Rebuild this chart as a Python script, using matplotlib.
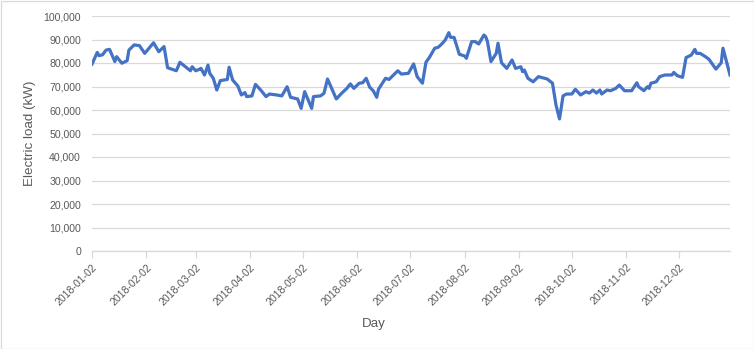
import matplotlib
matplotlib.use("Agg")
import matplotlib.pyplot as plt
import matplotlib.dates as mdates
from matplotlib.patches import Rectangle
from matplotlib.ticker import FuncFormatter
import numpy as np

# Daily electric load readings for 2018
dates = [
    "2018-01-02", "2018-01-05", "2018-01-06", "2018-01-08", "2018-01-10", "2018-01-12",
    "2018-01-15", "2018-01-16", "2018-01-19", "2018-01-22", "2018-01-23", "2018-01-26",
    "2018-01-29", "2018-02-01", "2018-02-06", "2018-02-09", "2018-02-12", "2018-02-14",
    "2018-02-19", "2018-02-21", "2018-02-27", "2018-02-28", "2018-03-02", "2018-03-04",
    "2018-03-05", "2018-03-07", "2018-03-09", "2018-03-10", "2018-03-12", "2018-03-14",
    "2018-03-16", "2018-03-20", "2018-03-21", "2018-03-23", "2018-03-26", "2018-03-28",
    "2018-03-30", "2018-03-31", "2018-04-03", "2018-04-05", "2018-04-08", "2018-04-11",
    "2018-04-13", "2018-04-17", "2018-04-20", "2018-04-23", "2018-04-25", "2018-04-29",
    "2018-05-01", "2018-05-03", "2018-05-07", "2018-05-08", "2018-05-12", "2018-05-14",
    "2018-05-16", "2018-05-21", "2018-05-24", "2018-05-27", "2018-05-29", "2018-05-31",
    "2018-06-03", "2018-06-05", "2018-06-07", "2018-06-09", "2018-06-11", "2018-06-13",
    "2018-06-14", "2018-06-18", "2018-06-20", "2018-06-22", "2018-06-25", "2018-06-27",
    "2018-07-01", "2018-07-04", "2018-07-06", "2018-07-09", "2018-07-11", "2018-07-13",
    "2018-07-16", "2018-07-18", "2018-07-20", "2018-07-22", "2018-07-24", "2018-07-25",
    "2018-07-27", "2018-07-30", "2018-08-02", "2018-08-03", "2018-08-06", "2018-08-08",
    "2018-08-10", "2018-08-13", "2018-08-14", "2018-08-15", "2018-08-17", "2018-08-20",
    "2018-08-21", "2018-08-23", "2018-08-26", "2018-08-29", "2018-08-31", "2018-09-03",
    "2018-09-04", "2018-09-05", "2018-09-07", "2018-09-10", "2018-09-13", "2018-09-18",
    "2018-09-21", "2018-09-23", "2018-09-25", "2018-09-27", "2018-09-29", "2018-10-02",
    "2018-10-04", "2018-10-07", "2018-10-10", "2018-10-12", "2018-10-14", "2018-10-16",
    "2018-10-18", "2018-10-19", "2018-10-22", "2018-10-24", "2018-10-27", "2018-10-29",
    "2018-11-01", "2018-11-05", "2018-11-08", "2018-11-09", "2018-11-12", "2018-11-14",
    "2018-11-15", "2018-11-16", "2018-11-19", "2018-11-21", "2018-11-24", "2018-11-28",
    "2018-11-29", "2018-12-01", "2018-12-04", "2018-12-06", "2018-12-09", "2018-12-11",
    "2018-12-12", "2018-12-14", "2018-12-17", "2018-12-19", "2018-12-23", "2018-12-26",
    "2018-12-27", "2018-12-31",
]
load_kw = [
    79500, 84500, 83100, 83500, 85500, 85800,
    80600, 82700, 79900, 81000, 85500, 87700,
    87400, 84100, 88600, 84800, 87000, 78000,
    76700, 80300, 76700, 78400, 76700, 77300,
    77700, 74900, 79100, 75600, 73500, 68500,
    72500, 73000, 78200, 72800, 70200, 66400,
    67400, 65700, 66000, 70900, 68500, 65700,
    66800, 66400, 66000, 69900, 65400, 64700,
    60700, 67800, 60700, 65700, 66000, 67100,
    73200, 64700, 67100, 69200, 71100, 69200,
    71400, 71600, 73500, 69700, 68200, 65400,
    68800, 73500, 73000, 74500, 76700, 75300,
    75600, 79600, 74200, 71400, 80300, 82400,
    86300, 86700, 88100, 89800, 92900, 90900,
    90900, 83700, 83000, 82000, 89100, 89100,
    88100, 91900, 91200, 89100, 80600, 84100,
    88400, 80100, 77700, 81300, 77700, 78400,
    76300, 77000, 73500, 72000, 74200, 73200,
    71400, 62100, 56200, 66000, 66800, 66800,
    68800, 66400, 67800, 67200, 68500, 67200,
    68500, 66800, 68500, 68200, 69200, 70600,
    68200, 68200, 71600, 69900, 68200, 69900,
    69200, 71400, 72000, 74200, 74900, 74900,
    76000, 74600, 73900, 82300, 83400, 85800,
    84100, 84100, 82700, 81600, 77400, 80100,
    86300, 74900,
]
tick_dates = [
    "2018-01-02", "2018-02-02", "2018-03-02", "2018-04-02", "2018-05-02", "2018-06-02",
    "2018-07-02", "2018-08-02", "2018-09-02", "2018-10-02", "2018-11-02", "2018-12-02",
]

x = np.array(dates, dtype="datetime64[D]").astype("O")
xt = np.array(tick_dates, dtype="datetime64[D]").astype("O")

plt.rcParams["font.family"] = ["Liberation Sans", "DejaVu Sans"]
text_color = "#595959"
grid_color = "#d9d9d9"

fig = plt.figure(figsize=(7.54, 3.49), dpi=100)
ax = fig.add_axes([92 / 754, 1 - 251 / 349, (730 - 92) / 754, (251 - 16) / 349])

ax.plot(x, load_kw, color="#4472C4", lw=2.3, solid_joinstyle="round", zorder=3)

ax.set_ylim(0, 100000)
ax.set_yticks(np.arange(0, 100001, 10000))
ax.yaxis.set_major_formatter(FuncFormatter(lambda v, p: f"{int(v):,}"))
ax.set_xlim(np.datetime64("2018-01-02").astype("O"), np.datetime64("2018-12-31").astype("O"))
ax.set_xticks(xt)
ax.xaxis.set_major_formatter(mdates.DateFormatter("%Y-%m-%d"))

ax.grid(axis="y", color=grid_color, lw=0.9, zorder=0)
for s in ["top", "right", "left"]:
    ax.spines[s].set_visible(False)
ax.spines["bottom"].set_color(grid_color)
ax.spines["bottom"].set_linewidth(0.9)

ax.tick_params(axis="y", length=0, pad=8, labelsize=7.6, labelcolor=text_color)
ax.tick_params(axis="x", length=5, width=0.9, color=grid_color, pad=3,
               labelsize=7.6, labelcolor=text_color)
for lbl in ax.get_xticklabels():
    lbl.set_rotation(45)
    lbl.set_ha("right")
    lbl.set_rotation_mode("anchor")

fig.text(30 / 754, 1 - 133 / 349, "Electric load (kW)", rotation=90, ha="center",
         va="center", fontsize=9.6, color=text_color)
fig.text(374 / 754, 1 - 324 / 349, "Day", ha="center", va="center",
         fontsize=9.6, color=text_color)

fig.patches.append(Rectangle((0.5 / 754, 0.5 / 349), 753 / 754, 348 / 349,
                             transform=fig.transFigure, fill=False,
                             edgecolor=grid_color, lw=0.9))

fig.savefig("out.png", dpi=100)
